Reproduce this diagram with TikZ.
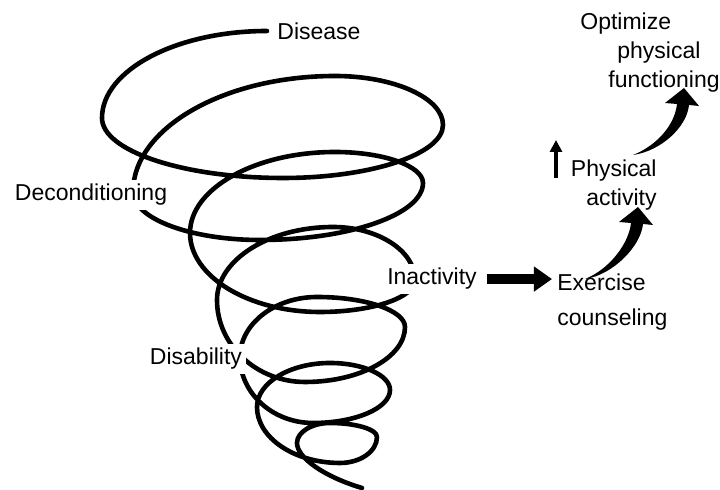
\documentclass[tikz,border=0pt]{standalone}
\usepackage{fontspec}
\setmainfont{Liberation Sans}
\usetikzlibrary{arrows.meta,calc}

\begin{document}
\begin{tikzpicture}[
  x=0.5pt, y=-0.5pt,
  font=\fontsize{11.5}{14.5}\selectfont,
  spiral/.style={line width=2.3pt, line cap=round, line join=round},
  lbl/.style={fill=white, inner sep=2pt, anchor=base},
  txt/.style={inner sep=0pt},
  fat/.style={line width=5pt, -{Triangle[length=9pt,width=12pt]}},
  upar/.style={line width=1.6pt, -{Triangle[length=6pt,width=6pt]}}
]
\useasboundingbox (0,0) rectangle (720,490);

% spiral: top, left, bottom, right point of each turn
\foreach \px/\py [count=\i from 0] in {267/31, 102/118, 283/178, 443/125,
    335/76, 133/192, 260/240, 423/183,
    335/152, 190/233, 320/312, 415/280,
    333/227, 217/300, 305/382, 405/327,
    317/297, 240/357, 313/423, 390/390,
    330/363, 257/407, 340/463, 377/437,
    330/423, 297/443}
  \coordinate (p\i) at (\px,\py);
\foreach \i [count=\j from 1] in {0,...,24} {
  \ifodd\i \coordinate (c\i) at (p\i |- p\j);
  \else \coordinate (c\i) at (p\j |- p\i); \fi
}
\draw[spiral] (p0) \foreach \i [count=\j from 1] in {0,...,24} {
    .. controls ($(p\i)!0.55!(c\i)$) and ($(p\j)!0.55!(c\i)$) .. (p\j) }
  .. controls (297,458) and (325,477) .. (362,488);

% labels on the spiral
\node[lbl] (dise) at (319,40)  {Disease};
\node[lbl] (deco) at (91,201)  {Deconditioning};
\node[lbl] (inac) at (432,285) {Inactivity};
\node[lbl] (disa) at (196,365) {Disability};

% right hand side
\node[txt, anchor=north west, align=left, font=\fontsize{11.5}{17.5}\selectfont]
  (exer) at (557,273.5) {Exercise\\counseling};
\node[txt, anchor=north east, align=right] (pact) at (657,159) {Physical\\activity};
\node[txt, anchor=north west, align=left] (opti) at (580,12)
  {Optimize\\\hspace*{18.5pt}physical\\\hspace*{14pt}functioning};

\draw[fat, shorten <=3pt, shorten >=2.5pt] (inac.east) -- (inac.east -| exer.west);

\coordinate (ua) at (556,178);
\coordinate (ub) at (556,140);
\draw[upar] (ua) -- (ub);

% tapered curved arrows
\coordinate (s1a) at (585,279); \coordinate (s1b) at (638,207);
\coordinate (s2a) at (633,155); \coordinate (s2b) at (684,88);
\foreach \a/\b in {s1a/s1b, s2a/s2b}
  \fill (\a) .. controls ($(\a)+(28,-4)$) and ($(\b)+(3,39)$) .. ($(\b)+(5,17)$)
    -- ($(\b)+(15,18)$) -- (\b) -- ($(\b)+(-19,15)$) -- ($(\b)+(-7,16)$)
    .. controls ($(\b)+(-9,36)$) and ($(\a)+(25,-10)$) .. cycle;
\end{tikzpicture}
\end{document}
